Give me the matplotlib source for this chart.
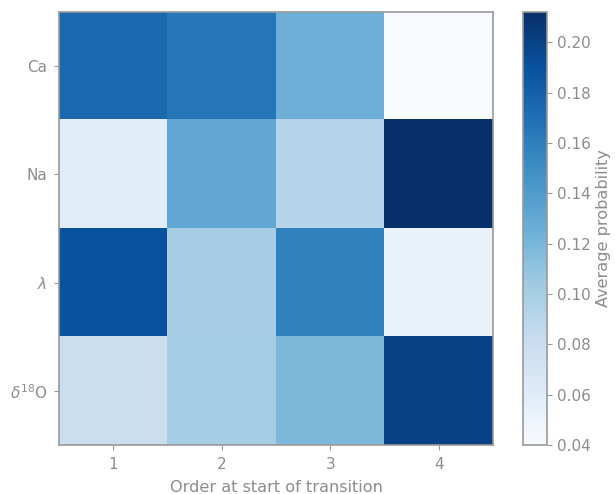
import numpy as np
import matplotlib
matplotlib.use("Agg")
import matplotlib.pyplot as plt

rows = ["Ca", "Na", r"$\lambda$", r"$\delta^{18}$O"]
orders = ["1", "2", "3", "4"]
ca = [0.175, 0.165, 0.125, 0.040]
na = [0.060, 0.131, 0.092, 0.212]
lam = [0.190, 0.100, 0.158, 0.052]
d18o = [0.078, 0.101, 0.118, 0.200]

grey = "#8c8c8c"
edge = "#999999"

plt.rcParams["font.size"] = 11
plt.rcParams["text.color"] = grey
plt.rcParams["axes.labelcolor"] = grey
plt.rcParams["xtick.color"] = grey
plt.rcParams["ytick.color"] = grey

data = np.array([ca, na, lam, d18o])

fig = plt.figure(figsize=(6.15, 4.94), dpi=100)
ax = fig.add_axes([59 / 615, 1 - 445 / 494, 434 / 615, 433 / 494])
cax = fig.add_axes([523 / 615, 1 - 445 / 494, 24 / 615, 433 / 494])

im = ax.imshow(data, cmap="Blues", vmin=0.04, vmax=0.212, aspect="auto")
ax.set_xticks(range(len(orders)))
ax.set_xticklabels(orders)
ax.set_yticks(range(len(rows)))
ax.set_yticklabels(rows)
ax.set_xlabel("Order at start of transition", fontsize=11.6, labelpad=6)
for s in ax.spines.values():
    s.set_color(edge)
    s.set_linewidth(1.2)
ax.tick_params(color=edge, pad=5)

cb = fig.colorbar(im, cax=cax)
cb.set_ticks([0.04, 0.06, 0.08, 0.10, 0.12, 0.14, 0.16, 0.18, 0.20])
cb.set_label("Average probability", fontsize=11.6)
cb.outline.set_edgecolor(edge)
cb.outline.set_linewidth(1.2)
cax.tick_params(color=edge)

plt.savefig("out.png", dpi=100)
